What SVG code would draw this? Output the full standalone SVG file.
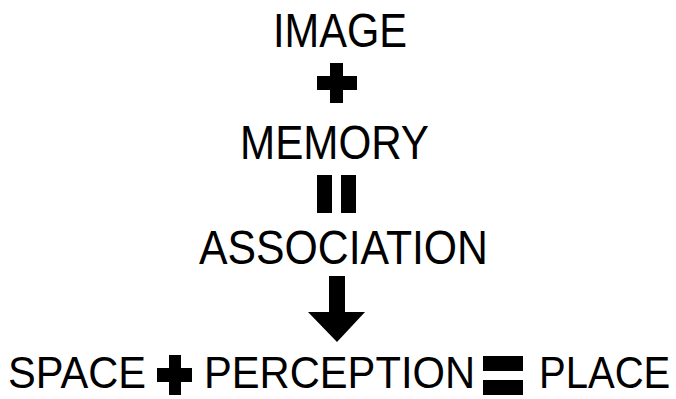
<svg xmlns="http://www.w3.org/2000/svg" width="676" height="399" viewBox="0 0 676 399">
<style>
text{font-family:"Liberation Sans",Arial,sans-serif;font-size:48px;fill:#000}
text.b{font-size:45px}
.sym{fill:#000}
</style>
<rect width="676" height="399" fill="#fff"/>
<g id="image"><text x="273" y="47" textLength="134" lengthAdjust="spacingAndGlyphs">IMAGE</text></g>
<g id="memory"><text x="240" y="159" textLength="189" lengthAdjust="spacingAndGlyphs">MEMORY</text></g>
<g id="association"><text x="199" y="264" textLength="289" lengthAdjust="spacingAndGlyphs">ASSOCIATION</text></g>
<g id="space"><text class="b" x="8" y="388" textLength="138" lengthAdjust="spacingAndGlyphs">SPACE</text></g>
<g id="perception"><text class="b" x="204" y="388" textLength="271" lengthAdjust="spacingAndGlyphs">PERCEPTION</text></g>
<g id="place"><text class="b" transform="translate(539 388) scale(0.89 1)">PLACE</text></g>
<g id="connectors">
<path class="sym" d="M330 63h13v13h14v14h-14v13h-13v-13h-13v-14h13z"/>
<rect class="sym" x="317" y="175" width="15" height="38"/>
<rect class="sym" x="341" y="175" width="15" height="38"/>
<path class="sym" d="M329 276h16v36h20l-28 30l-29-30h21z"/>
<path class="sym" d="M169 355h12v13h11v14h-11v13h-12v-13h-12v-14h12z"/>
<rect class="sym" x="483" y="356" width="40" height="15"/>
<rect class="sym" x="483" y="380" width="40" height="15"/>
</g>
</svg>
